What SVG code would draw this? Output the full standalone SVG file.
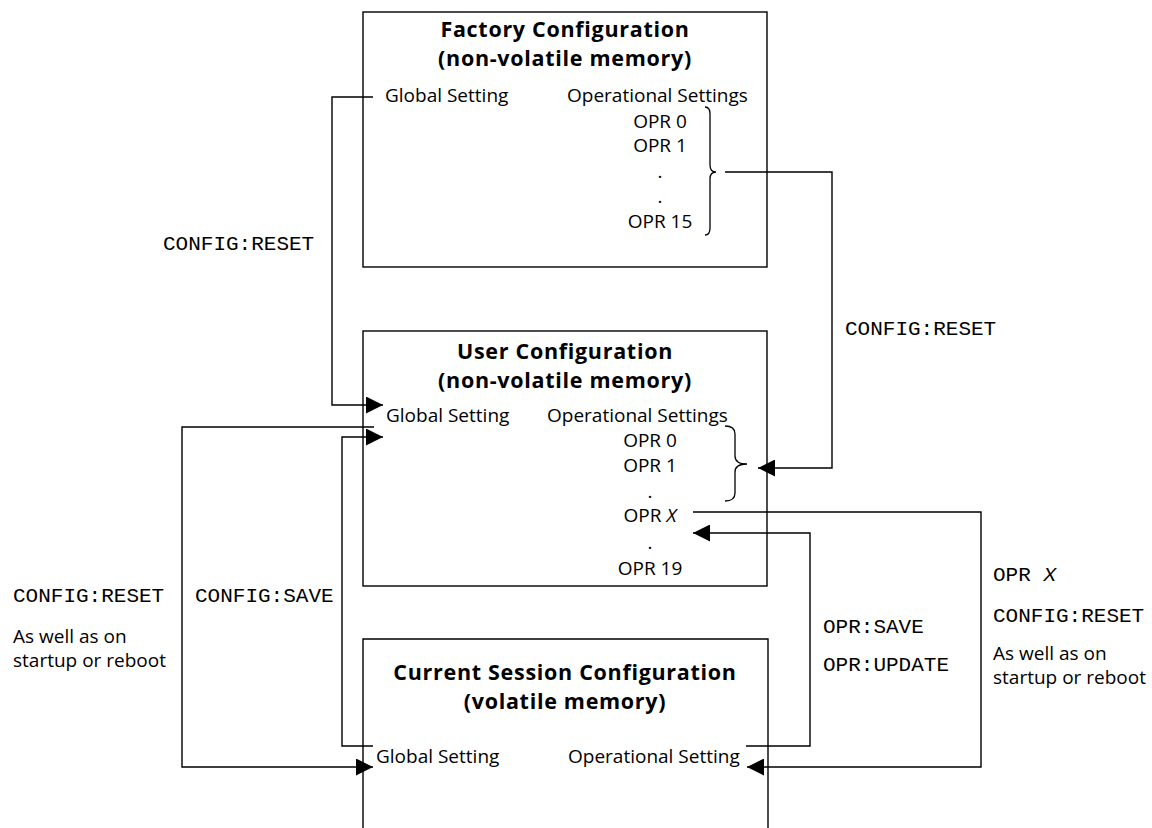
<svg xmlns="http://www.w3.org/2000/svg" width="1152" height="828" viewBox="0 0 1152 828">
  <defs>
    <style>
      .box { fill: none; stroke: #000; stroke-width: 1.4; }
      .wire { fill: none; stroke: #000; stroke-width: 1.4; }
      .brace { fill: none; stroke: #000; stroke-width: 1.3; }
      .t { font-family: "Open Sans", "Noto Sans", sans-serif; font-size: 19px; fill: #000; }
      .h { font-family: "Open Sans", "Noto Sans", sans-serif; font-size: 21.5px; letter-spacing: 0.7px; font-weight: bold; fill: #000; text-anchor: middle; }
      .m { font-family: "Liberation Mono", "Courier New", monospace; font-size: 21px; fill: #000; }
      .c { text-anchor: middle; }
      .i { font-style: italic; }
    </style>
    <marker id="arrow" markerUnits="userSpaceOnUse" markerWidth="18" markerHeight="17" refX="17" refY="8.5" orient="auto">
      <path d="M0,0 L17,8.5 L0,17 Z" fill="#000"/>
    </marker>
  </defs>

  <rect width="1152" height="828" fill="#fff"/>

  <!-- Factory configuration store -->
  <g id="factory">
    <rect class="box" x="363" y="12" width="404" height="255"/>
    <text class="h" x="565" y="37">Factory Configuration</text>
    <text class="h" x="565" y="66">(non-volatile memory)</text>
    <text class="t" x="385" y="102">Global Setting</text>
    <text class="t" x="567" y="102">Operational Settings</text>
    <text class="t c" x="660" y="128">OPR 0</text>
    <text class="t c" x="660" y="152">OPR 1</text>
    <text class="t c" x="660" y="178">.</text>
    <text class="t c" x="660" y="203">.</text>
    <text class="t c" x="660" y="228">OPR 15</text>
    <path class="brace" d="M705,107 Q710,107 710,114 L710,165 Q710,172 716,172 Q710,172 710,179 L710,228 Q710,235 705,235"/>
  </g>

  <!-- User configuration store -->
  <g id="user">
    <rect class="box" x="363" y="331" width="404" height="255"/>
    <text class="h" x="565" y="359">User Configuration</text>
    <text class="h" x="565" y="388">(non-volatile memory)</text>
    <text class="t" x="386" y="422">Global Setting</text>
    <text class="t" x="547" y="422">Operational Settings</text>
    <text class="t c" x="650" y="447">OPR 0</text>
    <text class="t c" x="650" y="472">OPR 1</text>
    <text class="t c" x="650" y="498">.</text>
    <text class="t c" x="650" y="522">OPR <tspan class="i">X</tspan></text>
    <text class="t c" x="650" y="549">.</text>
    <text class="t c" x="650" y="575">OPR 19</text>
    <path class="brace" d="M725,426 Q735,426 735,434 L735,456 Q735,464 747,464 Q735,464 735,472 L735,493 Q735,501 725,501"/>
  </g>

  <!-- Current session (volatile) configuration, open at the bottom -->
  <g id="session">
    <path class="box" d="M363,840 V639 H768 V840"/>
    <text class="h" x="565" y="680">Current Session Configuration</text>
    <text class="h" x="565" y="709">(volatile memory)</text>
    <text class="t" x="376" y="763">Global Setting</text>
    <text class="t" x="568" y="763">Operational Setting</text>
  </g>

  <!-- Transfer paths between the stores -->
  <g id="connectors">
    <path class="wire" d="M373,97 H332 V405 H383" marker-end="url(#arrow)"/>
    <path class="wire" d="M374,427 H182 V767 H373" marker-end="url(#arrow)"/>
    <path class="wire" d="M373,746 H342 V437 H383" marker-end="url(#arrow)"/>
    <path class="wire" d="M725,172 H832 V468 H758" marker-end="url(#arrow)"/>
    <path class="wire" d="M693,512 H981 V767 H747" marker-end="url(#arrow)"/>
    <path class="wire" d="M746,746 H810 V533 H693" marker-end="url(#arrow)"/>
  </g>

  <!-- Command labels -->
  <g id="labels">
    <text class="m" x="163" y="250">CONFIG:RESET</text>
    <text class="m" x="845" y="335">CONFIG:RESET</text>
    <text class="m" x="13" y="602">CONFIG:RESET</text>
    <text class="t" x="13" y="643">As well as on</text>
    <text class="t" x="13" y="667">startup or reboot</text>
    <text class="m" x="195" y="602">CONFIG:SAVE</text>
    <text class="m" x="823" y="633">OPR:SAVE</text>
    <text class="m" x="823" y="671">OPR:UPDATE</text>
    <text class="m" x="993" y="581">OPR <tspan class="i">X</tspan></text>
    <text class="m" x="993" y="622">CONFIG:RESET</text>
    <text class="t" x="993" y="660">As well as on</text>
    <text class="t" x="993" y="684">startup or reboot</text>
  </g>
</svg>
